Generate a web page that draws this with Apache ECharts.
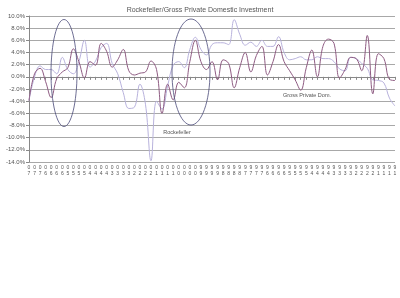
<!DOCTYPE html>
<html><head><meta charset="utf-8">
<script src="https://cdn.jsdelivr.net/npm/echarts@6/dist/echarts.min.js"></script>
<style>html,body{margin:0;padding:0;background:#fff}#c{width:400px;height:298px}</style>
</head><body><div id="c"></div>
<script>
const categories = ['07','07','07',
 '06','06','06','06','05','05','05','05','04','04','04','04','03','03','03','03',
 '02','02','02','02','01','01','01','01','00','00','00','00','99','99','99','99',
 '98','98','98','98','97','97','97','97','96','96','96','96','95','95','95','95',
 '94','94','94','94','93','93','93','93','92','92','92','92','91','91','91','91'];
const rockefeller = [-3.9,0.5,1.4,-0.8,-3.4,-0.3,0.8,1.5,4.6,2.5,-0.2,2.5,1.9,5.5,4.2,1.6,2.8,4.5,1.0,0.3,
 0.6,0.8,2.6,1.2,-6.0,-1.2,-3.8,-0.9,-1.8,2.5,6.0,2.5,1.2,2.5,-0.5,2.8,2.2,-1.8,1.5,4.0,
 0.8,3.5,5.0,0.3,2.5,5.3,2.5,1.0,-0.5,-2.2,1.5,4.4,0.0,5.0,6.2,5.5,-0.2,1.2,3.2,3.0,
 1.0,6.8,-2.8,3.8,3.0,-0.4,-0.6];
const gpdi = [-3.9,0.0,1.8,1.2,1.2,0.5,3.2,1.2,0.5,2.5,6.0,1.6,2.6,4.8,5.5,2.2,0.5,-2.6,-5.2,-5.0,
 -1.2,-4.5,-13.8,-4.0,-5.3,-1.5,1.9,2.5,1.5,4.5,6.5,4.5,3.6,5.3,5.6,5.6,5.3,9.4,7.0,5.2,
 5.7,5.0,6.0,5.0,5.0,6.6,4.0,2.8,3.0,3.3,2.8,2.8,3.3,3.0,3.0,2.5,1.3,1.0,3.2,3.0,
 2.2,1.4,-0.5,-0.6,-1.0,-3.5,-4.8];
const yTicks = {min:-14, max:10, interval:2};

const chart = echarts.init(document.getElementById('c'));
chart.setOption({
  animation:false,
  backgroundColor:'#fff',
  title:{text:'Rockefeller/Gross Private Domestic Investment',left:'center',top:2,
    textStyle:{fontSize:7,fontWeight:'normal',color:'#555',fontFamily:'Liberation Sans'}},
  grid:{left:29,right:5,top:16,bottom:136},
  xAxis:{type:'category',data:categories,boundaryGap:false,
    axisLine:{lineStyle:{color:'#888'}},
    axisTick:{show:true,interval:0,length:3,lineStyle:{color:'#888'}},
    axisLabel:{interval:0,fontSize:5,lineHeight:6,color:'#555',margin:3,fontFamily:'Liberation Sans',
      formatter:v=>v[0]+'\n'+v[1]},
    splitLine:{show:false}},
  yAxis:{type:'value',min:yTicks.min,max:yTicks.max,interval:yTicks.interval,
    axisLine:{show:true,lineStyle:{color:'#888'}},
    axisTick:{show:true,length:3,lineStyle:{color:'#888'}},
    axisLabel:{fontSize:6,color:'#555',margin:4,fontFamily:'Liberation Sans',formatter:v=>v.toFixed(1)+'%'},
    splitLine:{lineStyle:{color:'#a8a8a8',width:1}}},
  series:[
    {name:'Gross Private Dom.',type:'line',data:gpdi,smooth:0.4,symbol:'none',
      lineStyle:{color:'#b8b2dc',width:1}},
    {name:'Rockefeller',type:'line',data:rockefeller,smooth:0.4,symbol:'none',
      lineStyle:{color:'#8e5b82',width:1}}
  ],
  graphic:[
    {type:'ellipse',shape:{cx:64,cy:73,rx:13,ry:53.5},style:{fill:'none',stroke:'#4a4a78',lineWidth:0.8},z:100},
    {type:'ellipse',shape:{cx:191,cy:72,rx:19,ry:53},style:{fill:'none',stroke:'#4a4a78',lineWidth:0.8},z:100},
    {type:'text',x:177,y:132,style:{text:'Rockefeller',fontSize:5.5,fill:'#555',align:'center',verticalAlign:'middle',fontFamily:'Liberation Sans'},z:100},
    {type:'text',x:307,y:95,style:{text:'Gross Private Dom.',fontSize:5.5,fill:'#555',align:'center',verticalAlign:'middle',fontFamily:'Liberation Sans'},z:100}
  ]
});
</script></body></html>
